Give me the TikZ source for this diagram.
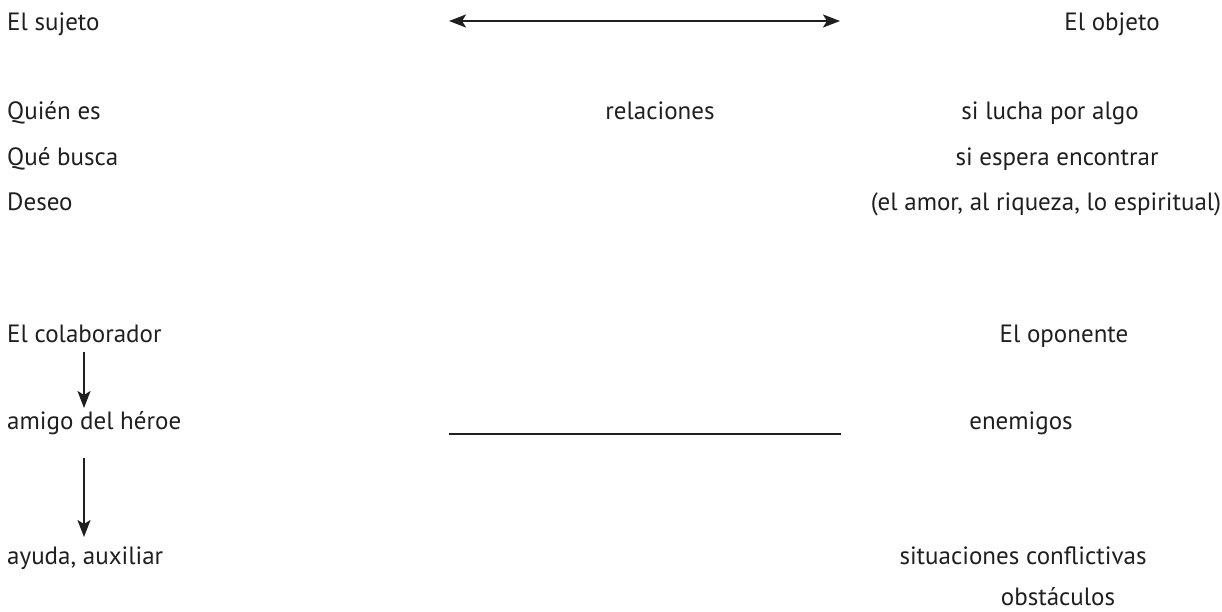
\documentclass[tikz,border=0pt]{standalone}
\usepackage{fontspec}
\setmainfont{PT Sans}
\usetikzlibrary{arrows.meta}
\begin{document}
\begin{tikzpicture}[x=1pt,y=-1pt,
  lbl/.style={inner sep=0pt,anchor=base west,font=\fontsize{25}{30}\selectfont,text=black!88},
  lblc/.style={inner sep=0pt,anchor=base,font=\fontsize{25}{30}\selectfont,text=black!88},
  tip/.tip={Stealth[length=17pt,width=13pt,inset=4pt]},
  conn/.style={line width=2.2pt,black!88,-tip},
  bconn/.style={line width=2.2pt,black!88,tip-tip},
  plain/.style={line width=2.2pt,black!88}]
\useasboundingbox (0,0) rectangle (1222,611);
\node[lbl] (sujeto) at (7,30) {El sujeto};
\node[lblc] (objeto) at (1112,30) {El objeto};
\node[lbl] (quien) at (7,119) {Quién es};
\node[lblc] (rel) at (660,119) {relaciones};
\node[lblc] (lucha) at (1050,119) {si lucha por algo};
\node[lbl] (busca) at (7,165) {Qué busca};
\node[lblc] (espera) at (1057,165) {si espera encontrar};
\node[lbl] (deseo) at (7,210) {Deseo};
\node[lblc] (amor) at (1046,210) {(el amor, al riqueza, lo espiritual)};
\node[lbl] (colab) at (7,342) {El colaborador};
\node[lblc] (opon) at (1064,342) {El oponente};
\node[lbl] (amigo) at (7,429) {amigo del héroe};
\node[lblc] (enem) at (1021,429) {enemigos};
\node[lbl] (ayuda) at (7,564) {ayuda, auxiliar};
\node[lblc] (sit) at (1023,564) {situaciones conflictivas};
\node[lblc] (obst) at (1058,605) {obstáculos};
\coordinate (a1) at (449,21);
\coordinate (a2) at (840,21);
\coordinate (l1) at (449,434);
\coordinate (l2) at (841,434);
\coordinate (v1s) at (84,352);
\coordinate (v1e) at (84,408);
\coordinate (v2s) at (84,458);
\coordinate (v2e) at (84,537);
\draw[bconn] (a1) -- (a2);
\draw[plain] (l1) -- (l2);
\draw[conn] (v1s) -- (v1e);
\draw[conn] (v2s) -- (v2e);
\end{tikzpicture}
\end{document}
